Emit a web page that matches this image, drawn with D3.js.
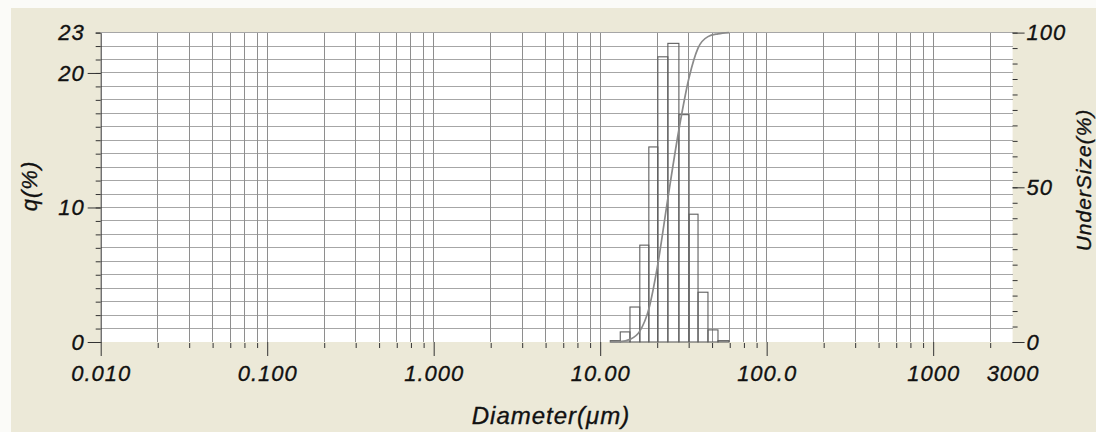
<!DOCTYPE html>
<html>
<head>
<meta charset="utf-8">
<script src="https://cdn.jsdelivr.net/npm/d3@7"></script>
<style>
  html, body { margin: 0; padding: 0; background: #fbfbf8; }
  svg { display: block; }
  text { font-family: "Liberation Sans", Arial, sans-serif; font-style: italic; fill: #111; stroke: #111; stroke-width: 0.35px; }
</style>
</head>
<body>
<svg id="chart" width="1096" height="432"></svg>
<script>
// Particle size distribution: frequency q(%) per size channel and cumulative undersize (%)
const binEdges   = [11.5, 13.2, 15.1, 17.3, 19.6, 22.2, 25.5, 29.7, 34.2, 38.7, 44.4, 51.0, 59.4]; // μm
const qValues    = [0.1, 0.75, 2.6, 7.2, 14.5, 21.2, 22.2, 16.9, 9.5, 3.7, 0.9, 0.1];
const underSize  = [0, 0.1, 0.85, 3.5, 10.7, 25.2, 46.4, 68.6, 85.5, 95.0, 98.7, 99.6, 100];
const xTickValues = [0.01, 0.1, 1, 10, 100, 1000, 3000];
const xTickLabels = ["0.010", "0.100", "1.000", "10.00", "100.0", "1000", "3000"];
const gridMultipliers = [2.2, 3.4, 4.7, 6, 7.3, 8.7];   // minor grid positions inside each decade
const decadeStarts = [0.01, 0.1, 1, 10, 100, 1000];
const qTickValues = [0, 10, 20, 23];
const underTickValues = [0, 50, 100];

const svg = d3.select("#chart");
const W = 1096, H = 432;
const plot = { left: 100.7, right: 1012.6, top: 32.6, bottom: 342 };
const font = s => g => g.selectAll("text").style("font-size", s + "px").style("letter-spacing", "1px");

// panel background
svg.append("rect").attr("x", 11).attr("y", 8).attr("width", W - 11).attr("height", H - 8)
  .attr("fill", "#ece9d8");

const x = d3.scaleLog().domain([0.01, 3000]).range([plot.left, plot.right]);
const yQ = d3.scaleLinear().domain([0, 23]).range([plot.bottom, plot.top]);
const yU = d3.scaleLinear().domain([0, 100]).range([plot.bottom, plot.top]);

// plotting area
svg.append("rect")
  .attr("x", plot.left).attr("y", plot.top)
  .attr("width", plot.right - plot.left).attr("height", plot.bottom - plot.top)
  .attr("fill", "#ffffff");

const minorX = decadeStarts.flatMap(d => gridMultipliers.map(m => d * m)).filter(v => v < 3000);
const gridX = minorX.concat([0.1, 1, 10, 100, 1000]);

// grid
const grid = svg.append("g").attr("shape-rendering", "crispEdges");
grid.selectAll("line.h").data(d3.range(1, 24)).join("line")
  .attr("class", "h")
  .attr("x1", plot.left).attr("x2", plot.right)
  .attr("y1", d => yQ(d)).attr("y2", d => yQ(d))
  .attr("stroke", "#a6a6a6").attr("stroke-width", 1);
grid.selectAll("line.v").data(gridX).join("line")
  .attr("class", "v")
  .attr("x1", d => x(d)).attr("x2", d => x(d))
  .attr("y1", plot.top).attr("y2", plot.bottom)
  .attr("stroke", "#8e8e8e").attr("stroke-width", 1);

// histogram (outlined channels)
const bins = qValues.map((q, i) => ({ x0: binEdges[i], x1: binEdges[i + 1], q }));
svg.append("g").selectAll("rect").data(bins).join("rect")
  .attr("x", d => x(d.x0))
  .attr("width", d => x(d.x1) - x(d.x0))
  .attr("y", d => yQ(d.q))
  .attr("height", d => yQ(0) - yQ(d.q))
  .attr("fill", "none")
  .attr("stroke", "#5e5e5e")
  .attr("stroke-width", 1.1);

// cumulative undersize curve
const cum = binEdges.map((d, i) => ({ d, u: underSize[i] }));
svg.append("path").datum(cum)
  .attr("fill", "none")
  .attr("stroke", "#8a8a8a")
  .attr("stroke-width", 1.7)
  .attr("d", d3.line().x(p => x(p.d)).y(p => yU(p.u)).curve(d3.curveMonotoneX));

// bottom axis: minor ticks
svg.append("g").attr("transform", `translate(0,${plot.bottom + 1})`)
  .call(d3.axisBottom(x).tickValues(minorX).tickSize(5).tickFormat(""))
  .call(g => g.select(".domain").remove())
  .call(g => g.selectAll("line").attr("stroke", "#333"));

// bottom axis: decades with labels
svg.append("g").attr("transform", `translate(0,${plot.bottom})`)
  .call(d3.axisBottom(x).tickValues(xTickValues).tickSize(14)
    .tickFormat((d, i) => xTickLabels[i]))
  .call(g => g.select(".domain").remove())
  .call(g => g.selectAll("line").attr("stroke", "#333")
    .attr("y2", d => (d === 3000 ? 0 : 14)))
  .call(g => g.selectAll("text").attr("y", 23).attr("dy", "0.71em"))
  .call(font(22));

// left axis: q(%)
svg.append("g").attr("transform", `translate(${plot.left},0)`)
  .call(d3.axisLeft(yQ).tickValues(d3.range(0, 24)).tickSize(5).tickSizeOuter(0).tickFormat(""))
  .call(g => g.select(".domain").attr("stroke", "#333"))
  .call(g => g.selectAll("line").attr("stroke", "#333"));
svg.append("g").attr("transform", `translate(${plot.left},0)`)
  .call(d3.axisLeft(yQ).tickValues(qTickValues).tickSize(13).tickSizeOuter(0))
  .call(g => g.select(".domain").remove())
  .call(g => g.selectAll("line").attr("stroke", "#333").attr("x2", d => (d === 23 ? -5 : -13)))
  .call(g => g.selectAll("text").attr("x", -16))
  .call(font(22));

// right axis: UnderSize(%)
svg.append("g").attr("transform", `translate(${plot.right},0)`)
  .call(d3.axisRight(yU).tickValues(d3.range(0, 101, 5)).tickSize(5).tickFormat(""))
  .call(g => g.select(".domain").remove())
  .call(g => g.selectAll("line").attr("stroke", "#333"));
svg.append("g").attr("transform", `translate(${plot.right},0)`)
  .call(d3.axisRight(yU).tickValues(underTickValues).tickSize(12))
  .call(g => g.select(".domain").remove())
  .call(g => g.selectAll("line").attr("stroke", "#333"))
  .call(g => g.selectAll("text").attr("x", 14))
  .call(font(22));

// axis titles
svg.append("text")
  .attr("transform", "translate(29,186) rotate(-90)")
  .attr("text-anchor", "middle").attr("dominant-baseline", "central")
  .style("font-size", "22px").style("letter-spacing", "1px")
  .text("q(%)");
svg.append("text")
  .attr("transform", "translate(1083,180) rotate(-90)")
  .attr("text-anchor", "middle").attr("dominant-baseline", "central")
  .style("font-size", "21px").style("letter-spacing", "1px")
  .text("UnderSize(%)");
svg.append("text")
  .attr("x", 551).attr("y", 424)
  .attr("text-anchor", "middle")
  .style("font-size", "24px").style("letter-spacing", "1px")
  .text("Diameter(μm)");
</script>
</body>
</html>
